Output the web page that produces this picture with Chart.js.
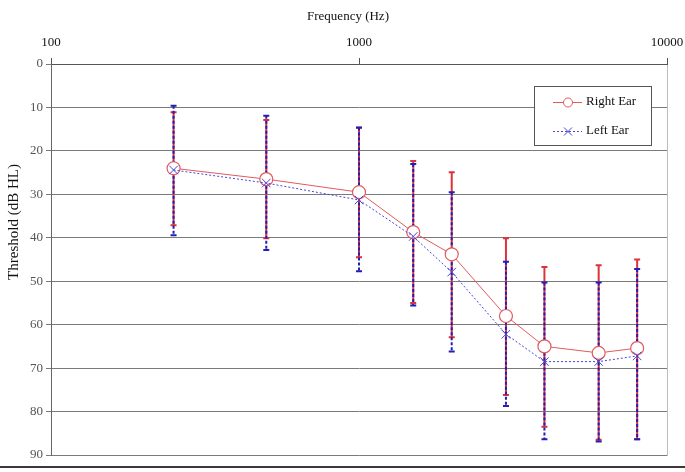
<!DOCTYPE html>
<html>
<head>
<meta charset="utf-8">
<script src="https://cdn.jsdelivr.net/npm/chart.js@4"></script>
<style>
    html, body { margin: 0; padding: 0; background: #fff; }
    #audioChart { display: block; }
</style>
</head>
<body>
<canvas id="audioChart" width="685" height="472"></canvas>
<script>
// frequencies (Hz) and mean thresholds (dB HL)
const freqs = [250, 500, 1000, 1500, 2000, 3000, 4000, 6000, 8000];
const rightEar = [24, 26.5, 29.5, 38.7, 43.8, 58, 65, 66.5, 65.4];
const leftEar = [24.4, 27.4, 31.3, 39.7, 47.9, 62.2, 68.5, 68.5, 67.2];

// error bar ends (top = lower dB, bottom = higher dB)
const rightTop = [11.1, 12.9, 14.7, 22.3, 24.9, 40.1, 46.7, 46.3, 45];
const rightBottom = [37.1, 40.1, 44.5, 55, 62.9, 76.2, 83.5, 86.5, 86.4];
const leftTop = [9.6, 11.9, 14.6, 23, 29.5, 45.5, 50.3, 50.3, 47.2];
const leftBottom = [39.4, 42.8, 47.7, 55.6, 66.2, 78.7, 86.4, 86.9, 86.4];

const xTicks = [100, 1000, 10000];
const yTicks = [0, 10, 20, 30, 40, 50, 60, 70, 80, 90];

const serif = '"Liberation Serif", "Times New Roman", serif';

function errorBars(chart, tops, bottoms, color, dash) {
    const ctx = chart.ctx;
    const xs = chart.scales.x;
    const ys = chart.scales.y;
    ctx.save();
    ctx.strokeStyle = color;
    ctx.lineWidth = 2;
    freqs.forEach((f, i) => {
        const x = xs.getPixelForValue(f);
        const y1 = ys.getPixelForValue(tops[i]);
        const y2 = ys.getPixelForValue(bottoms[i]);
        ctx.setLineDash(dash);
        ctx.beginPath();
        ctx.moveTo(x, y1);
        ctx.lineTo(x, y2);
        ctx.stroke();
        ctx.setLineDash([]);
        ctx.beginPath();
        ctx.moveTo(x - 3, y1);
        ctx.lineTo(x + 3, y1);
        ctx.moveTo(x - 3, y2);
        ctx.lineTo(x + 3, y2);
        ctx.stroke();
    });
    ctx.restore();
}

const decor = {
    id: 'decor',
    beforeDraw(chart) {
        const ctx = chart.ctx;
        const a = chart.chartArea;
        ctx.save();
        ctx.strokeStyle = '#bdbdbd';
        ctx.lineWidth = 1;
        ctx.strokeRect(a.left + 0.5, a.top + 0.5, a.right - a.left, a.bottom - a.top);
        ctx.restore();
    },
    beforeDatasetsDraw(chart) {
        errorBars(chart, rightTop, rightBottom, 'rgb(220,50,60)', []);
        errorBars(chart, leftTop, leftBottom, 'rgb(35,30,180)', [3, 2]);
    },
    afterDraw(chart) {
        const ctx = chart.ctx;
        ctx.save();
        // axis titles
        ctx.fillStyle = '#111';
        ctx.font = '13px ' + serif;
        ctx.textAlign = 'center';
        ctx.textBaseline = 'middle';
        ctx.fillText('Frequency (Hz)', 348, 17);
        ctx.save();
        ctx.font = '15px ' + serif;
        ctx.translate(14, 222);
        ctx.rotate(-Math.PI / 2);
        ctx.fillText('Threshold (dB HL)', 0, 0);
        ctx.restore();

        // legend box
        ctx.fillStyle = '#fff';
        ctx.fillRect(534, 86, 117, 59);
        ctx.strokeStyle = '#555';
        ctx.lineWidth = 1;
        ctx.strokeRect(534.5, 86.5, 117, 59);

        ctx.textAlign = 'left';
        ctx.fillStyle = '#111';
        // Right Ear
        ctx.strokeStyle = 'rgb(225,90,95)';
        ctx.beginPath();
        ctx.moveTo(553, 102.5);
        ctx.lineTo(582, 102.5);
        ctx.stroke();
        ctx.fillStyle = '#fff';
        ctx.beginPath();
        ctx.arc(568, 102.5, 4.5, 0, Math.PI * 2);
        ctx.fill();
        ctx.stroke();
        ctx.fillStyle = '#111';
        ctx.fillText('Right Ear', 586, 102);
        // Left Ear
        ctx.strokeStyle = 'rgb(70,70,215)';
        ctx.setLineDash([2, 2]);
        ctx.beginPath();
        ctx.moveTo(553, 131.5);
        ctx.lineTo(582, 131.5);
        ctx.stroke();
        ctx.setLineDash([]);
        ctx.beginPath();
        ctx.moveTo(564, 127.5); ctx.lineTo(572, 135.5);
        ctx.moveTo(572, 127.5); ctx.lineTo(564, 135.5);
        ctx.stroke();
        ctx.fillText('Left Ear', 586, 131);

        // picture frame line at the bottom
        ctx.fillStyle = '#3a3a3a';
        ctx.fillRect(0, 466, 685, 2);
        ctx.restore();
    }
};

new Chart(document.getElementById('audioChart'), {
    type: 'line',
    data: {
        datasets: [{
            label: 'Right Ear',
            data: freqs.map((f, i) => ({ x: f, y: rightEar[i] })),
            borderColor: 'rgb(225,90,95)',
            borderWidth: 1,
            backgroundColor: '#fff',
            pointStyle: 'circle',
            pointRadius: 6.5,
            pointBorderWidth: 1.2,
            pointBorderColor: 'rgb(225,90,95)',
            pointBackgroundColor: '#fff',
            tension: 0,
            order: 2
        }, {
            label: 'Left Ear',
            data: freqs.map((f, i) => ({ x: f, y: leftEar[i] })),
            borderColor: 'rgb(70,70,215)',
            borderWidth: 1,
            borderDash: [2, 2],
            pointStyle: 'crossRot',
            pointRadius: 6,
            pointBorderWidth: 1,
            pointBorderColor: 'rgb(70,70,215)',
            tension: 0,
            order: 1
        }]
    },
    options: {
        responsive: false,
        animation: false,
        devicePixelRatio: 1,
        layout: { padding: { left: 0, top: 0, right: 18, bottom: 17 } },
        plugins: {
            legend: { display: false },
            tooltip: { enabled: false }
        },
        scales: {
            x: {
                type: 'logarithmic',
                position: 'top',
                min: 100,
                max: 10000,
                afterBuildTicks: (scale) => { scale.ticks = xTicks.map(v => ({ value: v })); },
                afterFit: (scale) => {
                    scale.height = 64;
                    // let the 10000 label run to the canvas edge, as in the original
                    scale.paddingLeft = 0;
                    scale.paddingRight = 0;
                },
                grid: { drawOnChartArea: false, tickLength: 6, color: '#555' },
                border: { display: true, color: '#555', width: 1 },
                ticks: {
                    color: '#111',
                    padding: 8,
                    maxRotation: 0,
                    font: { family: serif, size: 13 },
                    callback: (v) => String(v)
                }
            },
            y: {
                reverse: true,
                min: 0,
                max: 90,
                afterBuildTicks: (scale) => { scale.ticks = yTicks.map(v => ({ value: v })); },
                afterFit: (scale) => { scale.width = 51; },
                grid: { color: '#7a7a7a', tickLength: 5 },
                border: { display: true, color: '#666' },
                ticks: {
                    color: '#555',
                    padding: 3,
                    font: { family: serif, size: 13 }
                }
            }
        }
    },
    plugins: [decor]
});
</script>
</body>
</html>
